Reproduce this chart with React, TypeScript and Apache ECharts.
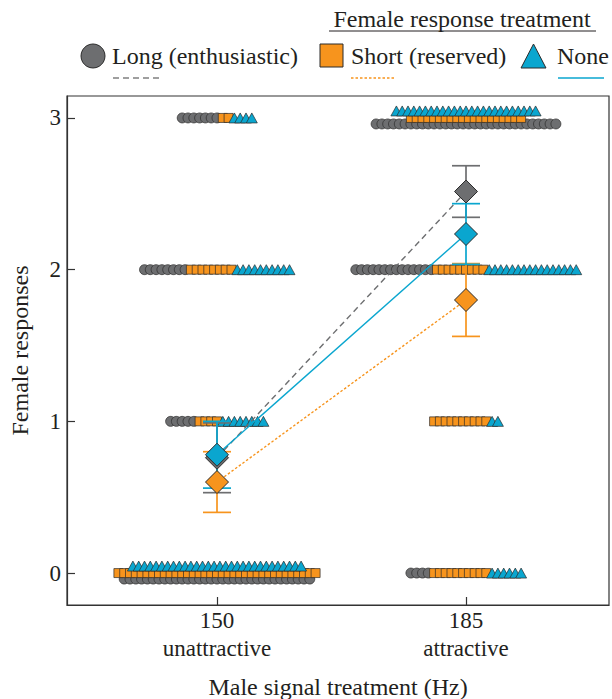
import React, { useEffect, useRef } from "react";
import * as echarts from "echarts";

// ---------- data ----------
const maleSignals = [150, 185];
const signalLabels = ["unattractive", "attractive"];
const responseLevels = [0, 1, 2, 3];
const yTicks = [0, 1, 2, 3];
const treatments = ["Long (enthusiastic)", "Short (reserved)", "None"];

// number of females at response level 0..3, for [150 Hz, 185 Hz]
const longCounts = [
  [33, 5, 8, 7],
  [4, 0, 14, 32],
];
const shortCounts = [
  [35, 4, 8, 2],
  [10, 10, 9, 20],
];
const noneCounts = [
  [30, 8, 10, 4],
  [6, 2, 16, 25],
];

// means and error (half-width) for [150 Hz, 185 Hz]
const longMeans = [0.76, 2.515];
const longErr = [0.23, 0.17];
const shortMeans = [0.6, 1.8];
const shortErr = [0.2, 0.24];
const noneMeans = [0.78, 2.235];
const noneErr = [0.22, 0.2];

// ---------- styles / layout ----------
const FONT = "'Liberation Serif', 'Times New Roman', serif";
const GRAY = "#6d6e70";
const ORANGE = "#f7941d";
const CYAN = "#0aa6cf";
const EDGE = "#2b2b2b";
const TEXT = "#231f20";

const GRID = { left: 67, right: 3, top: 96, bottom: 94 };
const X_MIN = 128.915;
const X_MAX = 205.1;
const Y_MIN = -0.2105;
const Y_MAX = 3.1447;
const PX_PER_HZ = (612 - GRID.left - GRID.right) / (X_MAX - X_MIN);
const PX_PER_UNIT = (699 - GRID.top - GRID.bottom) / (Y_MAX - Y_MIN);
const DOT_STEP = 5.8 / PX_PER_HZ;
const OVERLAY_THRESHOLD = 60;
const Y_OFFSETS = [-6 / PX_PER_UNIT, 0, 7 / PX_PER_UNIT];

function buildDots(): number[][][] {
  const out: number[][][] = [[], [], []];
  const all = [longCounts, shortCounts, noneCounts];
  maleSignals.forEach((sig, si) => {
    responseLevels.forEach((lvl, li) => {
      const c = all.map((a) => a[si][li]);
      const total = c[0] + c[1] + c[2];
      if (total > OVERLAY_THRESHOLD) {
        c.forEach((n, g) => {
          for (let k = 0; k < n; k++) {
            out[g].push([sig + (k - (n - 1) / 2) * DOT_STEP, lvl + Y_OFFSETS[g]]);
          }
        });
      } else {
        let idx = 0;
        c.forEach((n, g) => {
          for (let k = 0; k < n; k++) {
            out[g].push([sig + (idx - (total - 1) / 2) * DOT_STEP, lvl]);
            idx++;
          }
        });
      }
    });
  });
  return out;
}

function errData(means: number[], errs: number[]) {
  return maleSignals.map((s, i) => [s, means[i] - errs[i], means[i] + errs[i]]);
}

function errSeries(name: string, means: number[], errs: number[], color: string, z: number) {
  return {
    name: name + " error",
    type: "custom",
    z,
    encode: { x: 0, y: [1, 2] },
    data: errData(means, errs),
    renderItem: (_p: any, api: any) => {
      const x = api.value(0);
      const lo = api.coord([x, api.value(1)]);
      const hi = api.coord([x, api.value(2)]);
      const w = 14;
      const st = { stroke: color, lineWidth: 1.7 };
      return {
        type: "group",
        children: [
          { type: "line", shape: { x1: lo[0], y1: lo[1], x2: hi[0], y2: hi[1] }, style: st },
          { type: "line", shape: { x1: lo[0] - w, y1: lo[1], x2: lo[0] + w, y2: lo[1] }, style: st },
          { type: "line", shape: { x1: hi[0] - w, y1: hi[1], x2: hi[0] + w, y2: hi[1] }, style: st },
        ],
      };
    },
  };
}

export default function App() {
  const ref = useRef<HTMLDivElement>(null);
  useEffect(() => {
    if (!ref.current) return;
    const chart = echarts.init(ref.current, undefined, { renderer: "svg" });
    const dots = buildDots();
    const colors = [GRAY, ORANGE, CYAN];
    const symbols = ["circle", "rect", "triangle"];
    const sizes: any[] = [10, [9, 9], [11, 10]];
    const meansAll = [longMeans, shortMeans, noneMeans];
    const errsAll = [longErr, shortErr, noneErr];
    const dashes: any[] = [[6, 4], [2.5, 2], "solid"];

    const series: any[] = [];
    treatments.forEach((t, g) => {
      series.push({
        name: t,
        type: "scatter",
        z: 2 + g * 0.1,
        symbol: symbols[g],
        symbolSize: sizes[g],
        itemStyle: { color: colors[g], borderColor: EDGE, borderWidth: 0.7, opacity: 1 },
        data: dots[g],
        silent: true,
      });
    });
    treatments.forEach((t, g) => {
      series.push({
        name: t + " trend",
        type: "line",
        z: 3,
        symbol: "none",
        lineStyle: { color: colors[g], width: 1.4, type: dashes[g] },
        data: maleSignals.map((s, i) => [s, meansAll[g][i]]),
      });
    });
    treatments.forEach((t, g) => {
      series.push(errSeries(t, meansAll[g], errsAll[g], colors[g], 4));
    });
    treatments.forEach((t, g) => {
      series.push({
        name: t + " mean",
        type: "scatter",
        z: 5 + g,
        symbol: "diamond",
        symbolSize: 23,
        itemStyle: { color: colors[g], borderColor: EDGE, borderWidth: 1, opacity: 1 },
        data: maleSignals.map((s, i) => [s, meansAll[g][i]]),
      });
    });

    const legendY = 56;
    const lineY = 78;
    const tstyle = (text: string, align: string) => ({
      text,
      fontSize: 24,
      fontFamily: FONT,
      fill: TEXT,
      align,
      verticalAlign: "middle",
    });
    const graphic: any[] = [
      { type: "text", x: 462, y: 19, style: tstyle("Female response treatment", "center") },
      { type: "line", shape: { x1: 329, y1: 31, x2: 596, y2: 31 }, style: { stroke: TEXT, lineWidth: 1 } },
      { type: "circle", shape: { cx: 93, cy: legendY, r: 12 }, style: { fill: GRAY, stroke: EDGE, lineWidth: 1 } },
      { type: "text", x: 112, y: legendY, style: tstyle(treatments[0], "left") },
      { type: "rect", shape: { x: 320, y: 44, width: 23, height: 23 }, style: { fill: ORANGE, stroke: EDGE, lineWidth: 1 } },
      { type: "text", x: 351, y: legendY, style: tstyle(treatments[1], "left") },
      { type: "polygon", shape: { points: [[533.5, 44], [546, 68], [521, 68]] }, style: { fill: CYAN, stroke: EDGE, lineWidth: 1 } },
      { type: "text", x: 557, y: legendY, style: tstyle(treatments[2], "left") },
      { type: "line", shape: { x1: 113, y1: lineY, x2: 160, y2: lineY }, style: { stroke: "#808080", lineWidth: 1.4, lineDash: [6, 4] } },
      { type: "line", shape: { x1: 351, y1: lineY, x2: 396, y2: lineY }, style: { stroke: ORANGE, lineWidth: 1.4, lineDash: [2.5, 2] } },
      { type: "line", shape: { x1: 558, y1: lineY, x2: 604, y2: lineY }, style: { stroke: CYAN, lineWidth: 1.4 } },
    ];

    chart.setOption({
      animation: false,
      backgroundColor: "#ffffff",
      textStyle: { fontFamily: FONT },
      grid: {
        ...GRID,
        containLabel: false,
        outerBoundsMode: "none",
        show: true,
        borderColor: "#333",
        borderWidth: 1.2,
        backgroundColor: "transparent",
      },
      xAxis: {
        type: "value",
        min: X_MIN,
        max: X_MAX,
        name: "Male signal treatment (Hz)",
        nameLocation: "middle",
        nameGap: 70,
        nameTextStyle: { fontSize: 24, fontFamily: FONT, color: TEXT },
        axisLine: { show: true, onZero: false, lineStyle: { color: "#333", width: 1.2 } },
        axisTick: { show: true, inside: true, length: 8, customValues: maleSignals, lineStyle: { color: "#333", width: 1.2 } },
        axisLabel: {
          customValues: maleSignals,
          fontSize: 23,
          fontFamily: FONT,
          color: TEXT,
          lineHeight: 28,
          margin: 1,
          formatter: (v: number) => {
            const i = maleSignals.findIndex((s) => Math.abs(s - v) < 1e-6);
            return i >= 0 ? `${maleSignals[i]}\n${signalLabels[i]}` : "";
          },
        },
        splitLine: { show: false },
      },
      yAxis: {
        type: "value",
        min: Y_MIN,
        max: Y_MAX,
        name: "Female responses",
        nameLocation: "middle",
        nameGap: 35,
        nameTextStyle: { fontSize: 24, fontFamily: FONT, color: TEXT },
        axisLine: { show: true, onZero: false, lineStyle: { color: "#333", width: 1.2 } },
        axisTick: { show: true, inside: true, length: 8, customValues: yTicks, lineStyle: { color: "#333", width: 1.2 } },
        axisLabel: {
          customValues: yTicks,
          fontSize: 23,
          fontFamily: FONT,
          color: TEXT,
          margin: 6,
          formatter: (v: number) => String(Math.round(v)),
        },
        splitLine: { show: false },
      },
      graphic,
      series,
    });
    return () => chart.dispose();
  }, []);
  return <div ref={ref} style={{ position: "absolute", left: 0, top: 0, width: 612, height: 699 }} />;
}
